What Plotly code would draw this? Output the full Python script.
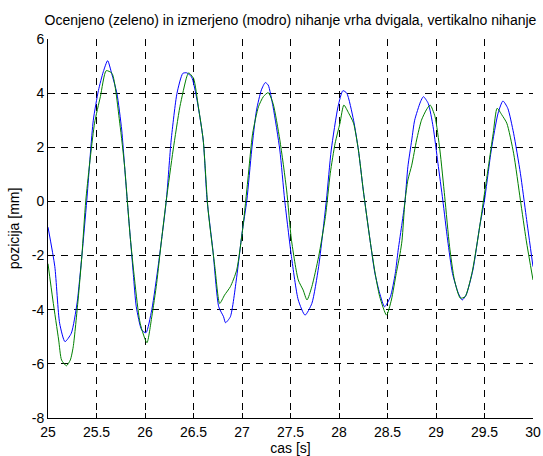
import plotly.graph_objects as go

# measured tip displacement (blue)
t_measured = [25.00, 25.07, 25.12, 25.175, 25.24, 25.30, 25.35, 25.40, 25.467, 25.52,
              25.57, 25.615, 25.656, 25.71, 25.76, 25.79, 25.82, 25.85, 25.88, 25.91,
              25.966, 26.01, 26.07, 26.14, 26.22, 26.27, 26.33, 26.39, 26.43, 26.48,
              26.53, 26.60, 26.64, 26.70, 26.76, 26.81, 26.83, 26.88, 26.945, 27.0,
              27.05, 27.10, 27.15, 27.20, 27.24, 27.27, 27.32, 27.39, 27.44, 27.51,
              27.58, 27.65, 27.72, 27.79, 27.87, 27.92, 27.99, 28.04, 28.08, 28.15,
              28.20, 28.25, 28.32, 28.37, 28.42, 28.47, 28.53, 28.58, 28.61, 28.65,
              28.68, 28.71, 28.75, 28.78, 28.84, 28.87, 28.92, 28.97, 29.02, 29.07,
              29.12, 29.17, 29.23, 29.27, 29.31, 29.38, 29.45, 29.50, 29.57, 29.64,
              29.69, 29.74, 29.80, 29.87, 29.93, 30.00]
y_measured = [-0.95, -2.4, -4.5, -5.18, -4.87, -3.75, -1.98, 0.05, 3.0, 4.1,
              4.79, 5.2, 4.73, 4.0, 2.64, 1.28, -0.1, -1.4, -2.7, -3.89,
              -4.75, -4.85, -4.0, -2.28, 0.05, 2.27, 4.0, 4.73, 4.75, 4.6,
              3.87, 2.27, 0.05, -1.8, -3.89, -4.26, -4.48, -4.26, -2.8, -1.18,
              0.05, 1.9, 3.38, 4.12, 4.39, 4.3, 3.5, 1.9, 0.05, -2.04,
              -3.64, -4.2, -3.77, -2.41, 0.05, 1.9, 3.5, 4.09, 4.0, 3.0,
              1.9, 0.42, -1.43, -2.65, -3.4, -3.89, -3.52, -2.66, -1.8, -0.8,
              0.0, 1.28, 2.27, 3.0, 3.68, 3.87, 3.62, 2.76, 1.41, 0.05,
              -1.43, -2.66, -3.39, -3.64, -3.46, -2.54, -0.93, 0.05, 1.9, 3.26,
              3.71, 3.44, 2.52, 1.04, -0.56, -2.41]

# estimated tip displacement (green)
t_estimated = [25.00, 25.05, 25.11, 25.14, 25.19, 25.23, 25.26, 25.31, 25.35, 25.39,
               25.48, 25.54, 25.60, 25.66, 25.74, 25.79, 25.85, 25.95, 26.02, 26.07,
               26.12, 26.17, 26.22, 26.29, 26.36, 26.43, 26.45, 26.50, 26.55, 26.60,
               26.65, 26.72, 26.77, 26.82, 26.88, 26.945, 27.01, 27.06, 27.11, 27.17,
               27.22, 27.27, 27.32, 27.39, 27.46, 27.51, 27.58, 27.63, 27.67, 27.72,
               27.79, 27.86, 27.91, 27.96, 28.01, 28.05, 28.10, 28.15, 28.20, 28.25,
               28.32, 28.37, 28.42, 28.49, 28.54, 28.59, 28.63, 28.65, 28.68, 28.71,
               28.75, 28.80, 28.85, 28.90, 28.94, 28.99, 29.04, 29.09, 29.14, 29.19,
               29.25, 29.30, 29.37, 29.44, 29.49, 29.54, 29.59, 29.63, 29.68, 29.73,
               29.80, 29.87, 29.93, 30.00]
y_estimated = [-2.3, -3.64, -5.12, -5.86, -6.07, -5.86, -5.37, -3.64, -1.98, 0.05,
               2.89, 3.87, 4.83, 4.73, 2.89, 1.28, -1.4, -4.5, -5.22, -4.26,
               -3.03, -1.43, 0.05, 1.9, 3.5, 4.6, 4.75, 4.55, 3.5, 2.27,
               -0.3, -2.41, -3.77, -3.46, -3.15, -2.54, -0.93, 0.79, 2.52, 3.5,
               3.87, 4.02, 3.62, 2.27, 0.42, -1.43, -2.9, -3.27, -3.64, -3.15,
               -2.04, -0.56, 1.04, 2.15, 2.89, 3.56, 3.26, 2.89, 1.9, 0.42,
               -1.43, -2.6, -3.52, -4.2, -3.64, -2.66, -1.92, -1.43, 0.0, 0.79,
               1.34, 2.27, 3.0, 3.38, 3.56, 3.13, 1.9, 0.17, -1.67, -2.9,
               -3.57, -3.52, -2.66, -1.18, 0.05, 1.28, 2.52, 3.44, 3.19, 2.89,
               1.78, 0.05, -1.43, -2.9]

x_ticks = [25, 25.5, 26, 26.5, 27, 27.5, 28, 28.5, 29, 29.5, 30]
x_ticklabels = ["25", "25.5", "26", "26.5", "27", "27.5", "28", "28.5", "29", "29.5", "30"]
y_ticks = [6, 4, 2, 0, -2, -4, -6, -8]
y_ticklabels = ["6", "4", "2", "0", "-2", "-4", "-6", "-8"]

FONT = "Liberation Sans, Arial, Helvetica, sans-serif"
FS = 14

fig = go.Figure()
fig.add_trace(go.Scatter(x=t_measured, y=y_measured, mode="lines",
                         line=dict(color="#0000ff", width=1, shape="spline", smoothing=0.6),
                         showlegend=False))
fig.add_trace(go.Scatter(x=t_estimated, y=y_estimated, mode="lines",
                         line=dict(color="#008000", width=1, shape="spline", smoothing=0.6),
                         showlegend=False))

axis_common = dict(
    showgrid=True, gridcolor="#000000", gridwidth=1, griddash="7px,6px",
    showline=True, linecolor="#000000", linewidth=1,
    ticks="inside", ticklen=5, tickcolor="#000000",
    zeroline=False, mirror=False, automargin=False,
    tickfont=dict(family=FONT, size=FS, color="#000000"),
)

fig.update_xaxes(range=[25, 30], tickvals=x_ticks, ticktext=x_ticklabels,
                 ticklabelstandoff=1,
                 title=dict(text="cas [s]", font=dict(family=FONT, size=FS, color="#000000"),
                            standoff=2),
                 **axis_common)
fig.update_yaxes(range=[-8, 6], tickvals=y_ticks, ticktext=y_ticklabels,
                 title=dict(text="pozicija [mm]", font=dict(family=FONT, size=FS, color="#000000"),
                            standoff=8),
                 **axis_common)

fig.update_layout(
    width=543, height=456,
    margin=dict(l=48, r=10, t=39, b=38),
    paper_bgcolor="#ffffff", plot_bgcolor="#ffffff",
    title=dict(text="Ocenjeno (zeleno) in izmerjeno (modro) nihanje vrha dvigala, vertikalno nihanje",
               x=0.5349, xanchor="center", y=0.955, yanchor="middle",
               font=dict(family=FONT, size=FS, color="#000000")),
)

fig.write_html("out.html")
